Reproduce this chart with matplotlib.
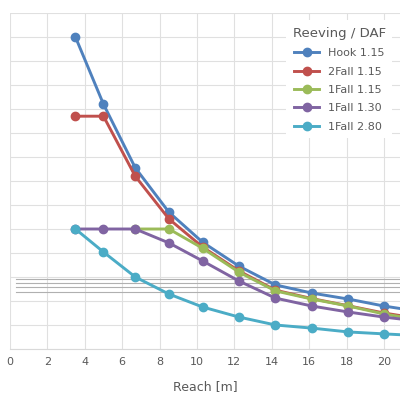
import matplotlib.pyplot as plt

# reach [m] and capacity (grid units)
reach = [3.5, 5.0, 6.7, 8.5, 10.3, 12.25, 14.2, 16.15, 18.1, 20.0, 22.0]
hook_115 = [13.0, 10.2, 7.55, 5.7, 4.45, 3.45, 2.67, 2.33, 2.08, 1.79, 1.55]
fall2_115 = [9.7, 9.7, 7.2, 5.42, 4.25, 3.25, 2.45, 2.1, 1.8, 1.5, 1.25]
fall1_115_x = [6.7, 8.5, 10.3, 12.25, 14.2, 16.15, 18.1, 20.0, 22.0]
fall1_115 = [5.0, 5.0, 4.2, 3.2, 2.42, 2.08, 1.79, 1.46, 1.2]
fall1_130 = [5.0, 5.0, 5.0, 4.42, 3.67, 2.83, 2.12, 1.79, 1.54, 1.33, 1.15]
fall1_280 = [5.0, 4.04, 3.0, 2.29, 1.75, 1.33, 1.0, 0.87, 0.71, 0.63, 0.55]

labels = ['Hook 1.15', '2Fall 1.15', '1Fall 1.15', '1Fall 1.30', '1Fall 2.80']
colors = ['#4F81BD', '#C0504D', '#9BBB59', '#8064A2', '#4BACC6']

# rough outline of the crane boom behind the curves
boom_levels = [2.92, 2.75, 2.58, 2.38]
boom_start = 0.3
boom_end = 21.5

fig = plt.figure(figsize=(4, 4), dpi=100)
ax = fig.add_axes([0.025, 0.1275, 0.975, 0.84])

for lv in boom_levels:
    ax.plot([boom_start, boom_end], [lv, lv], color='#B0B0B0', lw=0.8, zorder=1)

series = [(reach, hook_115), (reach, fall2_115), (fall1_115_x, fall1_115),
          (reach, fall1_130), (reach, fall1_280)]
for (xs, ys), lab, c in zip(series, labels, colors):
    ax.plot(xs, ys, '-o', color=c, lw=2.1, ms=6, label=lab, zorder=3)

ax.set_xlim(0, 20.86)
ax.set_ylim(0, 14)
ax.set_xticks(range(0, 21, 2))
ax.set_yticks(range(0, 15))
ax.set_yticklabels([])
ax.tick_params(axis='y', length=0)
ax.tick_params(axis='x', length=0, labelsize=8, labelcolor='#595959', pad=6)
ax.grid(True, color='#E0E0E0', lw=0.8)
ax.set_axisbelow(True)
for s in ['top', 'right', 'left']:
    ax.spines[s].set_visible(False)
ax.spines['bottom'].set_color('#D9D9D9')

ax.set_xlabel('Reach [m]', fontsize=9, color='#595959', labelpad=9)

leg = ax.legend(title='Reeving / DAF', loc='upper right', bbox_to_anchor=(0.995, 0.995),
                frameon=True, fontsize=8, title_fontsize=9.5, handlelength=2.2,
                labelspacing=0.75, borderpad=0.6)
leg.get_frame().set_facecolor('white')
leg.get_frame().set_edgecolor('none')
leg.get_frame().set_alpha(1)
leg.get_title().set_color('#595959')
for t in leg.get_texts():
    t.set_color('#595959')

fig.savefig('out.png', dpi=100)
